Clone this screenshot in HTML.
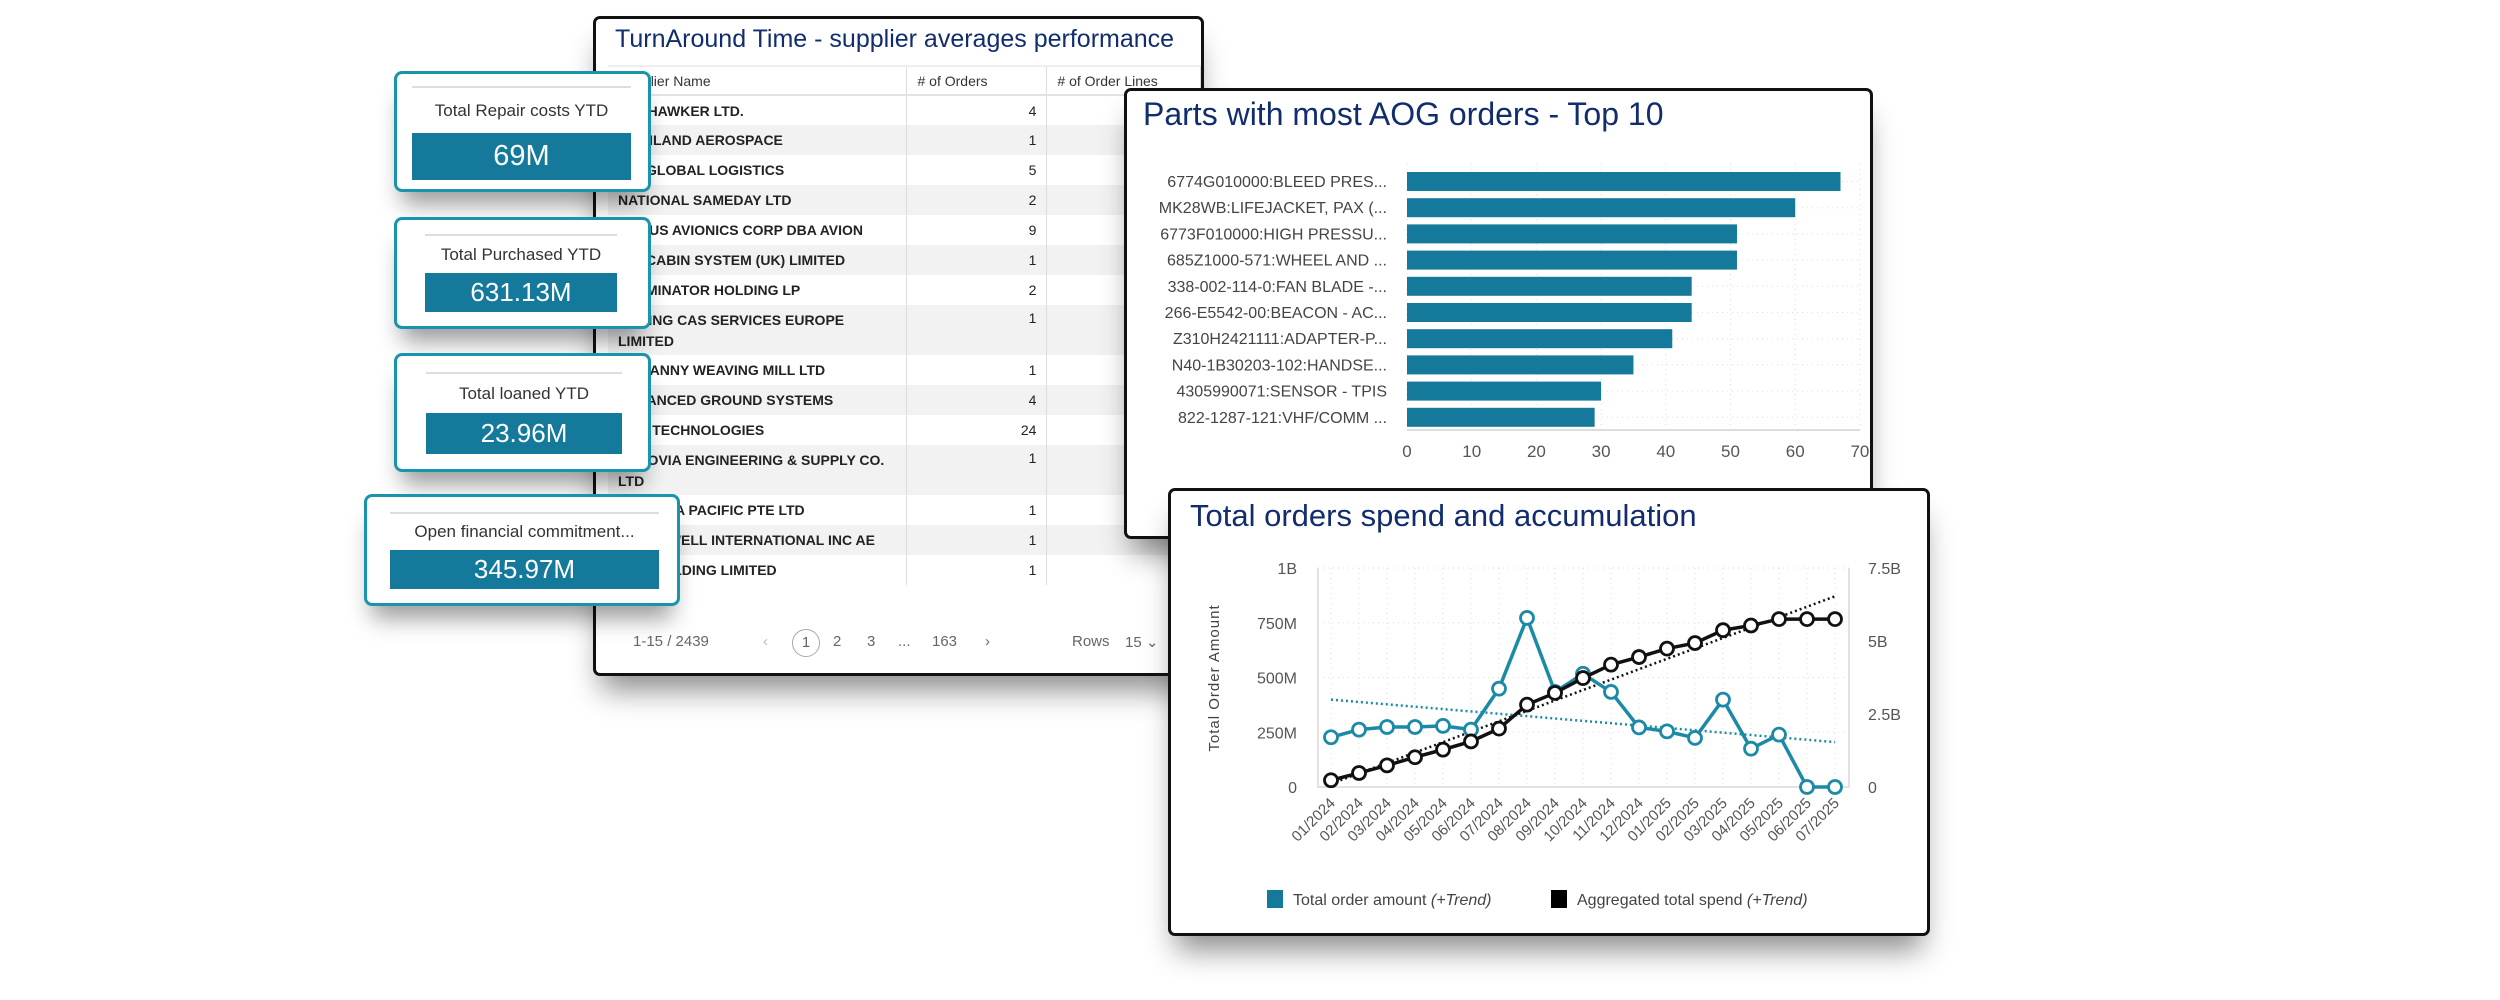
<!DOCTYPE html>
<html><head><meta charset="utf-8">
<style>
*{box-sizing:border-box;margin:0;padding:0}
body{width:2500px;height:1000px;background:#fff;position:relative;overflow:hidden;font-family:"Liberation Sans",sans-serif}
.panel{position:absolute;background:#fff;border:3px solid #111;border-radius:7px;box-shadow:0 22px 28px -8px rgba(0,0,0,0.45)}
.ttl{position:absolute;color:#112d6e;white-space:nowrap}
.card{position:absolute;background:#fff;border:3px solid #1a93ac;border-radius:8px;box-shadow:0 20px 22px -8px rgba(0,0,0,0.4)}
.ch{position:absolute;display:flex;align-items:center;justify-content:center;color:#333;font-size:17px;border-top:2px solid #ddd}
.cv{position:absolute;display:flex;align-items:center;justify-content:center;color:#fff;background:#14799a}
table{border-collapse:collapse;position:absolute;left:12px;top:46px;font-size:14px;color:#222}
td,th{height:30px;padding:0 10px;border-right:1px solid #ddd;vertical-align:middle}
th{font-weight:normal;text-align:left;height:29px;border-bottom:2px solid #e3e3e3;border-top:2px solid #eee;color:#333}
td{font-weight:bold}
tr.g td{background:#f2f2f2}
td.n{text-align:right;font-weight:normal}
tr.d td{height:50px}
.pg{position:absolute;top:614px;font-size:15px;color:#666}
svg text{font-family:"Liberation Sans",sans-serif}
</style></head><body>

<div class="panel" style="left:593px;top:16px;width:611px;height:660px;overflow:hidden">
  <div class="ttl" style="left:19px;top:6px;font-size:25px">TurnAround Time - supplier averages performance</div>
  <table>
    <tr><th style="width:310px">Supplier Name</th><th style="width:145px"># of Orders</th><th style="width:160px"># of Order Lines</th></tr>
    <tr><td>JET HAWKER LTD.</td><td class="n">4</td><td></td></tr>
    <tr class="g"><td>HIGHLAND AEROSPACE</td><td class="n">1</td><td></td></tr>
    <tr><td>AIR GLOBAL LOGISTICS</td><td class="n">5</td><td></td></tr>
    <tr class="g"><td>NATIONAL SAMEDAY LTD</td><td class="n">2</td><td></td></tr>
    <tr><td>ARGUS AVIONICS CORP DBA AVION</td><td class="n">9</td><td></td></tr>
    <tr class="g"><td>AIR CABIN SYSTEM (UK) LIMITED</td><td class="n">1</td><td></td></tr>
    <tr><td>TERMINATOR HOLDING LP</td><td class="n">2</td><td></td></tr>
    <tr class="g d"><td style="vertical-align:top;padding-top:5px;line-height:21px">BOEING CAS SERVICES EUROPE<br>LIMITED</td><td class="n" style="vertical-align:top;padding-top:5px">1</td><td></td></tr>
    <tr><td>BRITANNY WEAVING MILL LTD</td><td class="n">1</td><td></td></tr>
    <tr class="g"><td>ADVANCED GROUND SYSTEMS</td><td class="n">4</td><td></td></tr>
    <tr><td>AAR TECHNOLOGIES</td><td class="n">24</td><td></td></tr>
    <tr class="g d"><td style="vertical-align:top;padding-top:5px;line-height:21px">AEROVIA ENGINEERING &amp; SUPPLY CO.<br>LTD</td><td class="n" style="vertical-align:top;padding-top:5px">1</td><td></td></tr>
    <tr><td>AAR ASIA PACIFIC PTE LTD</td><td class="n">1</td><td></td></tr>
    <tr class="g"><td>HONEYWELL INTERNATIONAL INC AE</td><td class="n">1</td><td></td></tr>
    <tr><td>AAR HOLDING LIMITED</td><td class="n">1</td><td></td></tr>
  </table>
  <div class="pg" style="left:37px">1-15 / 2439</div>
  <div class="pg" style="left:167px;color:#bbb">‹</div>
  <div class="pg" style="left:196px;top:610px;width:28px;height:28px;border:1px solid #aaa;border-radius:50%;text-align:center;line-height:26px">1</div>
  <div class="pg" style="left:237px">2</div>
  <div class="pg" style="left:271px">3</div>
  <div class="pg" style="left:302px">...</div>
  <div class="pg" style="left:336px">163</div>
  <div class="pg" style="left:389px">›</div>
  <div class="pg" style="left:476px">Rows</div>
  <div class="pg" style="left:529px">15 ⌄</div>
</div>

<div class="card" style="left:394px;top:71px;width:257px;height:121px">
  <div class="ch" style="left:15px;top:12px;width:219px;height:47px">Total Repair costs YTD</div>
  <div class="cv" style="left:15px;top:59px;width:219px;height:47px;font-size:29px">69M</div>
</div>
<div class="card" style="left:394px;top:217px;width:257px;height:112px">
  <div class="ch" style="left:28px;top:14px;width:192px;height:39px">Total Purchased YTD</div>
  <div class="cv" style="left:28px;top:53px;width:192px;height:39px;font-size:26px">631.13M</div>
</div>
<div class="card" style="left:394px;top:353px;width:257px;height:119px">
  <div class="ch" style="left:29px;top:16px;width:196px;height:41px">Total loaned YTD</div>
  <div class="cv" style="left:29px;top:57px;width:196px;height:41px;font-size:26px">23.96M</div>
</div>
<div class="card" style="left:364px;top:494px;width:316px;height:112px">
  <div class="ch" style="left:23px;top:15px;width:269px;height:38px">Open financial commitment...</div>
  <div class="cv" style="left:23px;top:53px;width:269px;height:39px;font-size:26px">345.97M</div>
</div>

<div class="panel" style="left:1124px;top:88px;width:749px;height:451px">
  <div class="ttl" style="left:16px;top:5px;font-size:32px">Parts with most AOG orders - Top 10</div>
  <svg id="bars" width="749" height="451" style="position:absolute;left:-3px;top:-3px"></svg>
</div>

<div class="panel" style="left:1168px;top:488px;width:762px;height:448px">
  <div class="ttl" style="left:19px;top:7px;font-size:31px">Total orders spend and accumulation</div>
  <svg id="lines" width="762" height="448" style="position:absolute;left:-3px;top:-3px"></svg>
</div>

<script>
const partCats=["6774G010000:BLEED PRES...","MK28WB:LIFEJACKET, PAX (...","6773F010000:HIGH PRESSU...","685Z1000-571:WHEEL AND ...","338-002-114-0:FAN BLADE -...","266-E5542-00:BEACON - AC...","Z310H2421111:ADAPTER-P...","N40-1B30203-102:HANDSE...","4305990071:SENSOR - TPIS","822-1287-121:VHF/COMM ..."];
const partVals=[67,60,51,51,44,44,41,35,30,29];
const partTicks=[0,10,20,30,40,50,60,70];

const months=["01/2024","02/2024","03/2024","04/2024","05/2024","06/2024","07/2024","08/2024","09/2024","10/2024","11/2024","12/2024","01/2025","02/2025","03/2025","04/2025","05/2025","06/2025","07/2025"];
const orderAmountM=[227,262,274,274,279,262,449,772,434,517,434,272,254,224,399,175,239,0,0];
const aggSpendB=[0.23,0.48,0.74,1.02,1.28,1.56,2.00,2.82,3.22,3.73,4.19,4.45,4.74,4.93,5.37,5.53,5.75,5.75,5.75];
const orderTrendM=[399,205];
const spendTrendB=[0.11,6.53];
const leftTicks=[0,250,500,750,1000];
const leftTickLabels=["0","250M","500M","750M","1B"];
const rightTicks=[0,2.5,5,7.5];
const rightTickLabels=["0","2.5B","5B","7.5B"];

const NS="http://www.w3.org/2000/svg";
function mk(p,t,a,txt){const e=document.createElementNS(NS,t);for(const k in a)e.setAttribute(k,a[k]);if(txt!==undefined)e.textContent=txt;p.appendChild(e);return e;}

(function(){
  const s=document.getElementById('bars');
  const x=v=>283+v*6.47, y0=84, pitch=26.2, bh=19;
  partTicks.forEach(t=>{
    const g=mk(s,'line',{x1:x(t),x2:x(t),y1:y0-8,y2:342,stroke:'#ddd','stroke-dasharray':'1,4'});
    
    
    const l=mk(s,'text',{x:x(t),y:369,'text-anchor':'middle','font-size':17,fill:'#555'},t);
    
    
  });
  partCats.forEach((c,i)=>{
    const yy=y0+i*pitch;
    mk(s,'line',{x1:x(0),x2:x(70),y1:yy+bh/2,y2:yy+bh/2,stroke:'#ddd','stroke-dasharray':'1,4'});
    const b=mk(s,'rect',{x:x(0),y:yy,width:x(partVals[i])-x(0),height:bh,fill:'#14799a'});
    
    
    const l=mk(s,'text',{x:263,y:yy+bh/2+5.5,'text-anchor':'end','font-size':16,fill:'#444'},c);
    
    
  });
  const ax=mk(s,'line',{x1:x(0),x2:x(70),y1:342,y2:342,stroke:'#ddd','stroke-width':2});
  
  
  const lg=mk(s,'rect',{x:304,y:400,width:16,height:16,fill:'#14799a'});
  
  
})();

(function(){
  const s=document.getElementById('lines');
  const L=150,R=681,T=80,B=299;
  const xi=i=>163+i*28;
  const yl=v=>B-(v/1000)*(B-T);
  const yr=v=>B-(v/7.5)*(B-T);
  months.forEach((m,i)=>{
    mk(s,'line',{x1:xi(i),x2:xi(i),y1:T,y2:B,stroke:'#ddd','stroke-dasharray':'1,4'});
    const t=mk(s,'text',{x:0,y:0,'text-anchor':'end','font-size':15,fill:'#555',transform:`translate(${xi(i)+5},${B+17}) rotate(-45)`},m);
    
    
  });
  leftTicks.forEach((v,i)=>{
    mk(s,'line',{x1:L,x2:R,y1:yl(v),y2:yl(v),stroke:'#ddd','stroke-dasharray':'1,4'});
    const t=mk(s,'text',{x:129,y:yl(v)+6,'text-anchor':'end','font-size':16,fill:'#555'},leftTickLabels[i]);
    
    
  });
  rightTicks.forEach((v,i)=>{
    const t=mk(s,'text',{x:700,y:yr(v)+6,'font-size':16,fill:'#555'},rightTickLabels[i]);
    
    
  });
  mk(s,'polyline',{points:`${L},${T} ${L},${B} ${R},${B} ${R},${T}`,fill:'none',stroke:'#e2e2e2','stroke-width':2});
  const yt=mk(s,'text',{x:0,y:0,'text-anchor':'middle','font-size':15,fill:'#444','letter-spacing':'1',transform:`translate(51,190) rotate(-90)`},'Total Order Amount');
  
  
  const t1=mk(s,'line',{x1:xi(0),y1:yl(orderTrendM[0]),x2:xi(months.length-1),y2:yl(orderTrendM[1]),stroke:'#1b8aa6','stroke-width':2.5,'stroke-dasharray':'2,3'});
  
  
  const t2=mk(s,'line',{x1:xi(0),y1:yr(spendTrendB[0]),x2:xi(months.length-1),y2:yr(spendTrendB[1]),stroke:'#111','stroke-width':2.5,'stroke-dasharray':'2,3'});
  
  
  function series(vals,fy,col,name){
    const pl=mk(s,'polyline',{points:vals.map((v,i)=>xi(i)+','+fy(v)).join(' '),fill:'none',stroke:col,'stroke-width':3.5});
    
    
    vals.forEach((v,i)=>{
      const c=mk(s,'circle',{cx:xi(i),cy:fy(v),r:6.5,fill:'#fff',stroke:col,'stroke-width':2.8});
      
      
    });
  }
  series(orderAmountM,yl,'#1b8aa6','order-amount');
  series(aggSpendB,yr,'#111','aggregated-spend');
  const g1=mk(s,'rect',{x:99,y:402,width:16,height:18,fill:'#14799a'});
  
  
  const lt1=mk(s,'text',{x:125,y:417,'font-size':16,fill:'#444'});
  
  
  mk(lt1,'tspan',{},'Total order amount ');
  mk(lt1,'tspan',{'font-style':'italic'},'(+Trend)');
  const g2=mk(s,'rect',{x:383,y:402,width:16,height:18,fill:'#000'});
  
  
  const lt2=mk(s,'text',{x:409,y:417,'font-size':16,fill:'#444'});
  
  
  mk(lt2,'tspan',{},'Aggregated total spend ');
  mk(lt2,'tspan',{'font-style':'italic'},'(+Trend)');
})();
</script>
</body></html>
